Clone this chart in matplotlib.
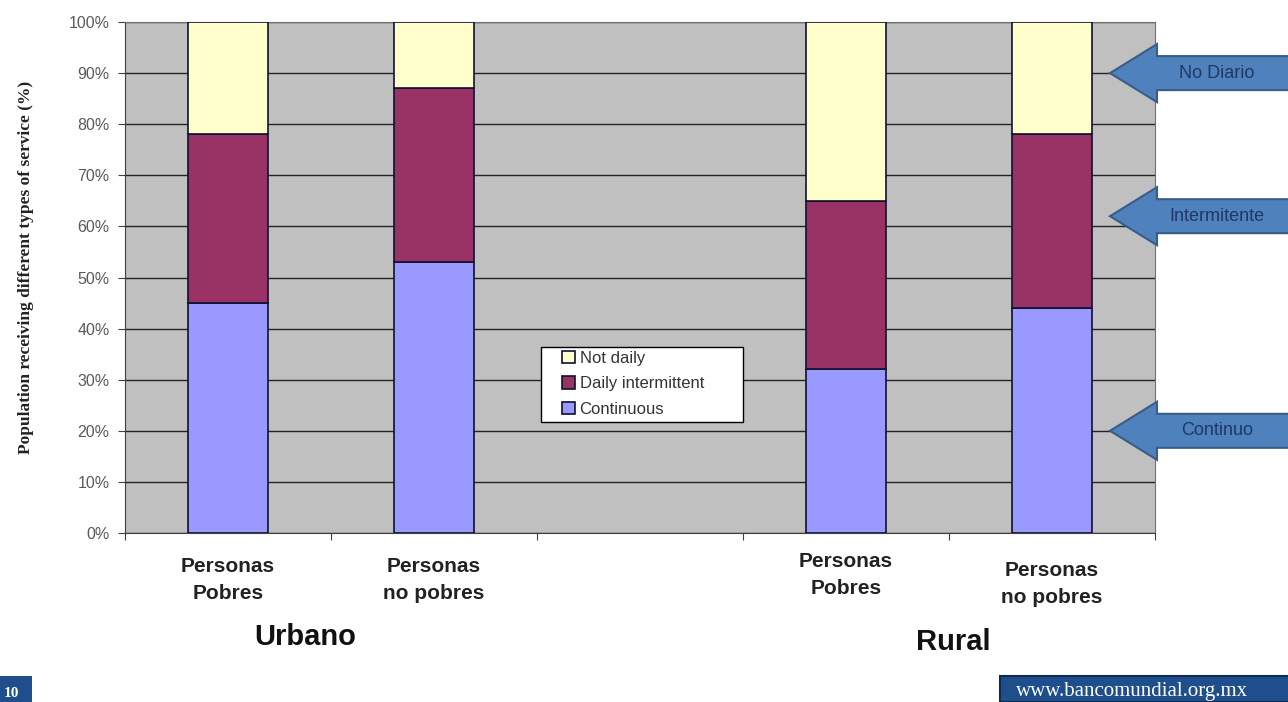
"""Stacked bars: water service type by poverty status, urban vs rural."""

import matplotlib.pyplot as plt
from matplotlib.patches import Polygon, Rectangle

plt.rcParams['font.family'] = ['Liberation Sans', 'DejaVu Sans']

# data
categories = ['Personas\nPobres', 'Personas\nno pobres', '',
              'Personas\nPobres', 'Personas\nno pobres']
groups = ['Urbano', 'Rural']
continuous = [45, 53, 0, 32, 44]
intermittent = [33, 34, 0, 33, 34]
not_daily = [22, 13, 0, 35, 22]
series_names = ['Continuous', 'Daily intermittent', 'Not daily']
arrow_labels = ['No Diario', 'Intermitente', 'Continuo']
arrow_levels = [90, 62, 20]

W, H = 1288, 702
fig = plt.figure(figsize=(W / 100, H / 100), dpi=100)
fig.patch.set_facecolor('white')
ax = fig.add_axes([125 / W, 1 - 533 / H, 1030 / W, 511 / H])
ax.set_facecolor('#c0c0c0')

x = list(range(len(categories)))
show = [i for i, c in enumerate(categories) if c]
bw = 0.39
colors = ['#9999ff', '#993366', '#ffffcc']
bottom = [0] * len(x)
handles = []
for vals, col, name in zip([continuous, intermittent, not_daily], colors,
                           series_names):
    xs = [x[i] for i in show]
    vs = [vals[i] for i in show]
    bs = [bottom[i] for i in show]
    h = ax.bar(xs, vs, bw, bottom=bs, color=col, edgecolor='#101030',
               linewidth=1.2, label=name, zorder=3)
    handles.append(h)
    bottom = [b + v for b, v in zip(bottom, vals)]

ax.set_xlim(-0.5, len(x) - 0.5)
ax.set_ylim(0, 100)
ax.set_yticks(range(0, 101, 10))
ax.set_yticklabels([f'{v}%' for v in range(0, 101, 10)], color='#5a5a5a',
                   fontsize=11.5)
ax.yaxis.grid(True, color='#222222', linewidth=1, zorder=1)
ax.set_xticks([i - 0.5 for i in range(len(x) + 1)])
ax.set_xticklabels([])
ax.tick_params(axis='both', direction='out', length=5, color='#404040')
ax.tick_params(axis='y', pad=6)
for side in ['left', 'bottom']:
    ax.spines[side].set_color('#404040')
for side in ['top', 'right']:
    ax.spines[side].set_color('#707070')

ax.set_ylabel('Population receiving different types of service (%)',
              family=['Liberation Serif', 'DejaVu Serif'], fontweight='bold',
              fontsize=12.5, color='#222222')
ax.yaxis.set_label_coords(-0.088, 0.52)

# category labels
label_dy = [0, 0, 0, -5, 4]
for i in show:
    ax.text(x[i], -0.047 - label_dy[i] / 511, categories[i],
            ha='center', va='top', fontsize=15, fontweight='bold',
            color='#222222', linespacing=1.5,
            transform=ax.get_xaxis_transform())
# group labels
fig.text(305 / W, 1 - 637 / H, groups[0], ha='center', va='center',
         fontsize=21, fontweight='bold', color='#111111')
fig.text(953 / W, 1 - 642 / H, groups[1], ha='center', va='center',
         fontsize=21, fontweight='bold', color='#111111')

# legend: frame drawn as its own box, entries placed inside it
ax.add_patch(Rectangle(((541 - 125) / 1030, (533 - 422) / 511),
                       202 / 1030, 75 / 511, transform=ax.transAxes,
                       facecolor='white', edgecolor='black', linewidth=1,
                       zorder=5))
leg = ax.legend(handles[::-1], series_names[::-1], loc='upper left',
                bbox_to_anchor=((562 - 125) / 1030, (533 - 351) / 511),
                frameon=False, fontsize=12,
                handlelength=0.75, handleheight=0.75, handletextpad=0.3,
                borderpad=0, labelspacing=0.62, borderaxespad=0)
leg.set_zorder(6)
for t in leg.get_texts():
    t.set_color('#333333')


def px(xp, yp):
    return (xp / W, 1 - yp / H)


# arrows on the right
for lab, lev in zip(arrow_labels, arrow_levels):
    yd = ax.transData.transform((0, lev))[1]
    yp = H - yd
    pts = [px(1110, yp), px(1157, yp - 29), px(1157, yp - 17),
           px(1300, yp - 17), px(1300, yp + 17), px(1157, yp + 17),
           px(1157, yp + 29)]
    fig.patches.append(Polygon(pts, closed=True, facecolor='#4f81bd',
                               edgecolor='#385d8a', linewidth=1.5,
                               transform=fig.transFigure, figure=fig))
    fig.text(1217 / W, 1 - yp / H, lab, ha='center', va='center',
             fontsize=13, color='#1f3864')

# footer boxes
fig.patches.append(Rectangle(px(0, 702), 32 / W, 26 / H,
                             facecolor='#1f4e8c', edgecolor='none',
                             transform=fig.transFigure, figure=fig))
fig.text(4 / W, 1 - 697 / H, '10', fontsize=11, fontweight='bold',
         color='white', va='baseline',
         family=['Liberation Serif', 'DejaVu Serif'])
fig.patches.append(Rectangle(px(1000, 702), 290 / W, 26 / H,
                             facecolor='#1f4e8c', edgecolor='#0f2a50',
                             linewidth=1.5,
                             transform=fig.transFigure, figure=fig))
fig.text(1016 / W, 1 - 696 / H, 'www.bancomundial.org.mx',
         family=['Liberation Serif', 'DejaVu Serif'], fontsize=15,
         color='white', va='baseline')

fig.savefig('out.png', dpi=100)
